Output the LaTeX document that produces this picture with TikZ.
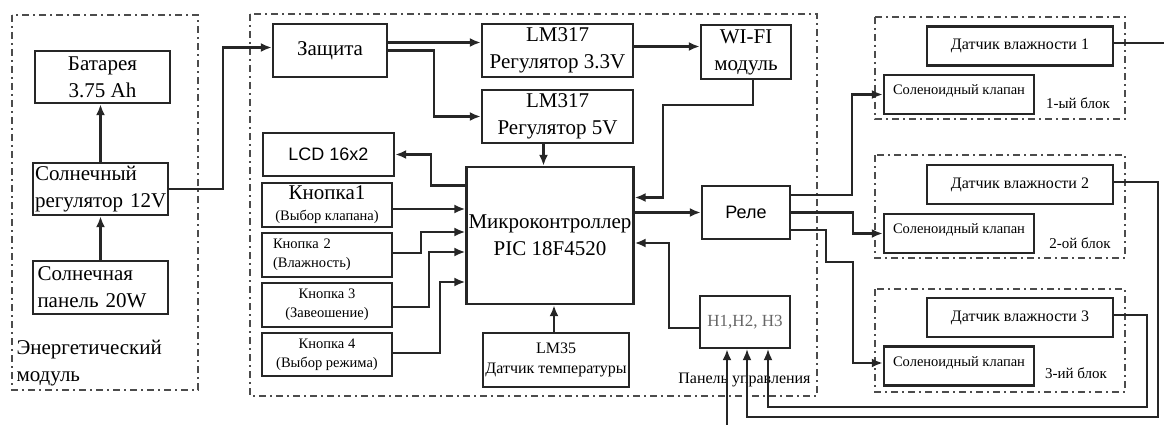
\documentclass[tikz,border=0pt]{standalone}
\usepackage{fontspec}
\setmainfont{Liberation Serif}
\newfontfamily\arialfont{Liberation Sans}
\usetikzlibrary{arrows.meta}

\begin{document}
\begin{tikzpicture}[x=1pt, y=-1pt, >={Latex[length=11pt,width=9pt]},
    box/.style={draw=black!85, line width=2.4pt, inner sep=2pt, align=center, font=\rmfamily\fontsize{21}{27}\selectfont},
    btn/.style={box, minimum width=130pt, minimum height=44pt, font=\rmfamily\fontsize{14.5}{19}\selectfont},
    sens/.style={box, minimum width=186pt, minimum height=39pt, font=\rmfamily\fontsize{16}{20}\selectfont},
    valve/.style={box, minimum width=150pt, minimum height=39pt, text height=0pt, text depth=0pt, font=\rmfamily\fontsize{14.5}{18}\selectfont},
    frame/.style={draw=black!70, line width=2.4pt, dash pattern=on 7pt off 4pt on 2pt off 4pt},
    wire/.style={->, line width=2.2pt, draw=black!85}]
        \useasboundingbox (0,0) rectangle (1164,425);

        % energy module
        \draw[frame] (12,15) rectangle (198,390);
        \node[box, minimum width=135pt, minimum height=52pt] (bat) at (102.5,77) {Батарея\\3.75 Ah};
        \node[box, minimum width=135pt, minimum height=52pt, text width=131pt, align=left] (sreg) at (100.5,189) {Солнечный\\\mbox{регулятор 12V}};
        \node[box, minimum width=135pt, minimum height=53pt, text width=126pt, align=left] (span) at (100.5,287.5) {Солнечная\\панель 20W};
        \node[anchor=west, align=left, font=\rmfamily\fontsize{21}{27}\selectfont] (elab) at (13,363) {Энергетический\\модуль};
        \draw[wire] (span.north) -- (sreg.south);
        \draw[wire] (sreg.north) -- (sreg.north |- bat.south);

        % main board
        \draw[frame] (250,14) rectangle (817,396);
        \node[box, minimum width=114pt, minimum height=53pt] (zash) at (330,50.5) {Защита};
        \node[box, minimum width=151pt, minimum height=53pt] (lm33) at (557.5,50.5) {LM317\\Регулятор 3.3V};
        \node[box, minimum width=151pt, minimum height=53pt] (lm5) at (557.5,116.5) {LM317\\Регулятор 5V};
        \node[box, minimum width=90pt, minimum height=54pt] (wifi) at (746,52) {WI-FI\\модуль};
        \node[box, minimum width=131pt, minimum height=43pt, font=\arialfont\fontsize{18}{22}\selectfont] (lcd) at (328.5,154.5) {LCD 16x2};
        \node[box, minimum width=166pt, minimum height=137pt] (mcu) at (550,235.5) {Микроконтроллер\\PIC 18F4520};
        \node[btn, font=\rmfamily\fontsize{21}{27}\selectfont] (k1) at (327,205) {Кнопка1\\[-6pt]{\fontsize{14.5}{16}\selectfont(Выбор клапана)}};
        \node[btn, text width=108pt, inner xsep=11pt, align=left] (k2) at (327,255) {Кнопка 2\\(Влажность)};
        \node[btn] (k3) at (327,305) {Кнопка 3\\(Завеошение)};
        \node[btn, minimum height=43pt] (k4) at (327,354.5) {Кнопка 4\\(Выбор режима)};
        \node[box, minimum width=146pt, minimum height=54pt, font=\rmfamily\fontsize{16}{20}\selectfont] (lm35) at (556,360) {LM35\\Датчик температуры};
        \node[box, minimum width=88pt, minimum height=53pt, font=\arialfont\fontsize{18}{22}\selectfont] (rele) at (746,212.5) {Реле};
        \node[box, minimum width=90pt, minimum height=52pt, text=black!60, font=\rmfamily\fontsize{17}{20}\selectfont] (hbox) at (745,322) {H1,H2, H3};
        \node[font=\rmfamily\fontsize{16}{20}\selectfont] (plab) at (744.5,380) {Панель управления};

        \draw[wire] (sreg.east) -- ++(54,0) |- ([yshift=3pt]zash.west);
        \draw[wire] ([yshift=8pt]zash.east) -- ([yshift=8pt]lm33.west);
        \draw[wire] (zash.east) -- ++(46,0) |- (lm5.west);
        \draw[wire] ([yshift=4pt]lm33.east) -- ([yshift=5.5pt]wifi.west);
        \draw[wire] ([xshift=7pt]wifi.south) -- ++(0,25) -- ++(-90,0) |- ([yshift=38pt]mcu.east);
        \draw[wire] ([xshift=-14pt]lm5.south) -- ([xshift=-6.5pt]mcu.north);
        \draw[wire] ([yshift=50pt]mcu.west) -- ++(-34,0) |- (lcd.east);
        \draw[wire] ([yshift=-4pt]k1.east) -- ([yshift=26.5pt]mcu.west);
        \draw[wire] ([yshift=2pt]k2.east) -- ++(28,0) |- ([yshift=3.5pt]mcu.west);
        \draw[wire] ([yshift=-2pt]k3.east) -- ++(36,0) |- ([yshift=-16.5pt]mcu.west);
        \draw[wire] ([yshift=1.5pt]k4.east) -- ++(47,0) |- ([yshift=-46.5pt]mcu.west);
        \draw[wire] ([xshift=-2pt]lm35.north) -- ([xshift=4pt]mcu.south);
        \draw[wire] ([yshift=23pt]mcu.east) -- (rele.west);
        \draw[wire] ([yshift=-6pt]hbox.west) -- ++(-30,0) |- ([yshift=-7.5pt]mcu.east);

        % irrigation blocks
        \draw[frame] (875,17) rectangle (1125,119);
        \node[sens] (d1) at (1020,46) {Датчик влажности 1};
        \node[valve] (s1) at (959,94.5) {Соленоидный клапан};
        \node[font=\rmfamily\fontsize{15}{18}\selectfont] (b1) at (1078,103) {1-ый блок};
        \draw[frame] (875,155) rectangle (1125,258);
        \node[sens] (d2) at (1020,184.5) {Датчик влажности 2};
        \node[valve] (s2) at (959,233.5) {Соленоидный клапан};
        \node[font=\rmfamily\fontsize{15}{18}\selectfont] (b2) at (1080,243) {2-ой блок};
        \draw[frame] (875,289) rectangle (1125,392);
        \node[sens] (d3) at (1020,317.5) {Датчик влажности 3};
        \node[valve] (s3) at (959,366) {Соленоидный клапан};
        \node[font=\rmfamily\fontsize{15}{18}\selectfont] (b3) at (1076,373) {3-ий блок};

        \draw[wire] ([yshift=17.5pt]rele.east) -- ++(61,0) |- (s1.west);
        \draw[wire] (rele.east) -- ++(62,0) |- (s2.west);
        \draw[wire] ([yshift=-17.5pt]rele.east) -- ++(35,0) -- ++(0,32) -- ++(27,0) |- ([yshift=3pt]s3.west);
        \draw[line width=1.7pt, black!85] ([yshift=3pt]d1.east) -- ++(51,0);
        \draw[wire, line width=1.7pt] ([yshift=2.5pt]d2.east) -| ++(44,235) -| ([xshift=2pt]hbox.south);
        \draw[wire, line width=1.7pt] ([yshift=2.5pt]d3.east) -| ++(33,92) -| ([xshift=23pt]hbox.south);
        \coordinate (hin) at (727,425);
        \draw[wire] (hin) -- (hin |- hbox.south);
\end{tikzpicture}
\end{document}
